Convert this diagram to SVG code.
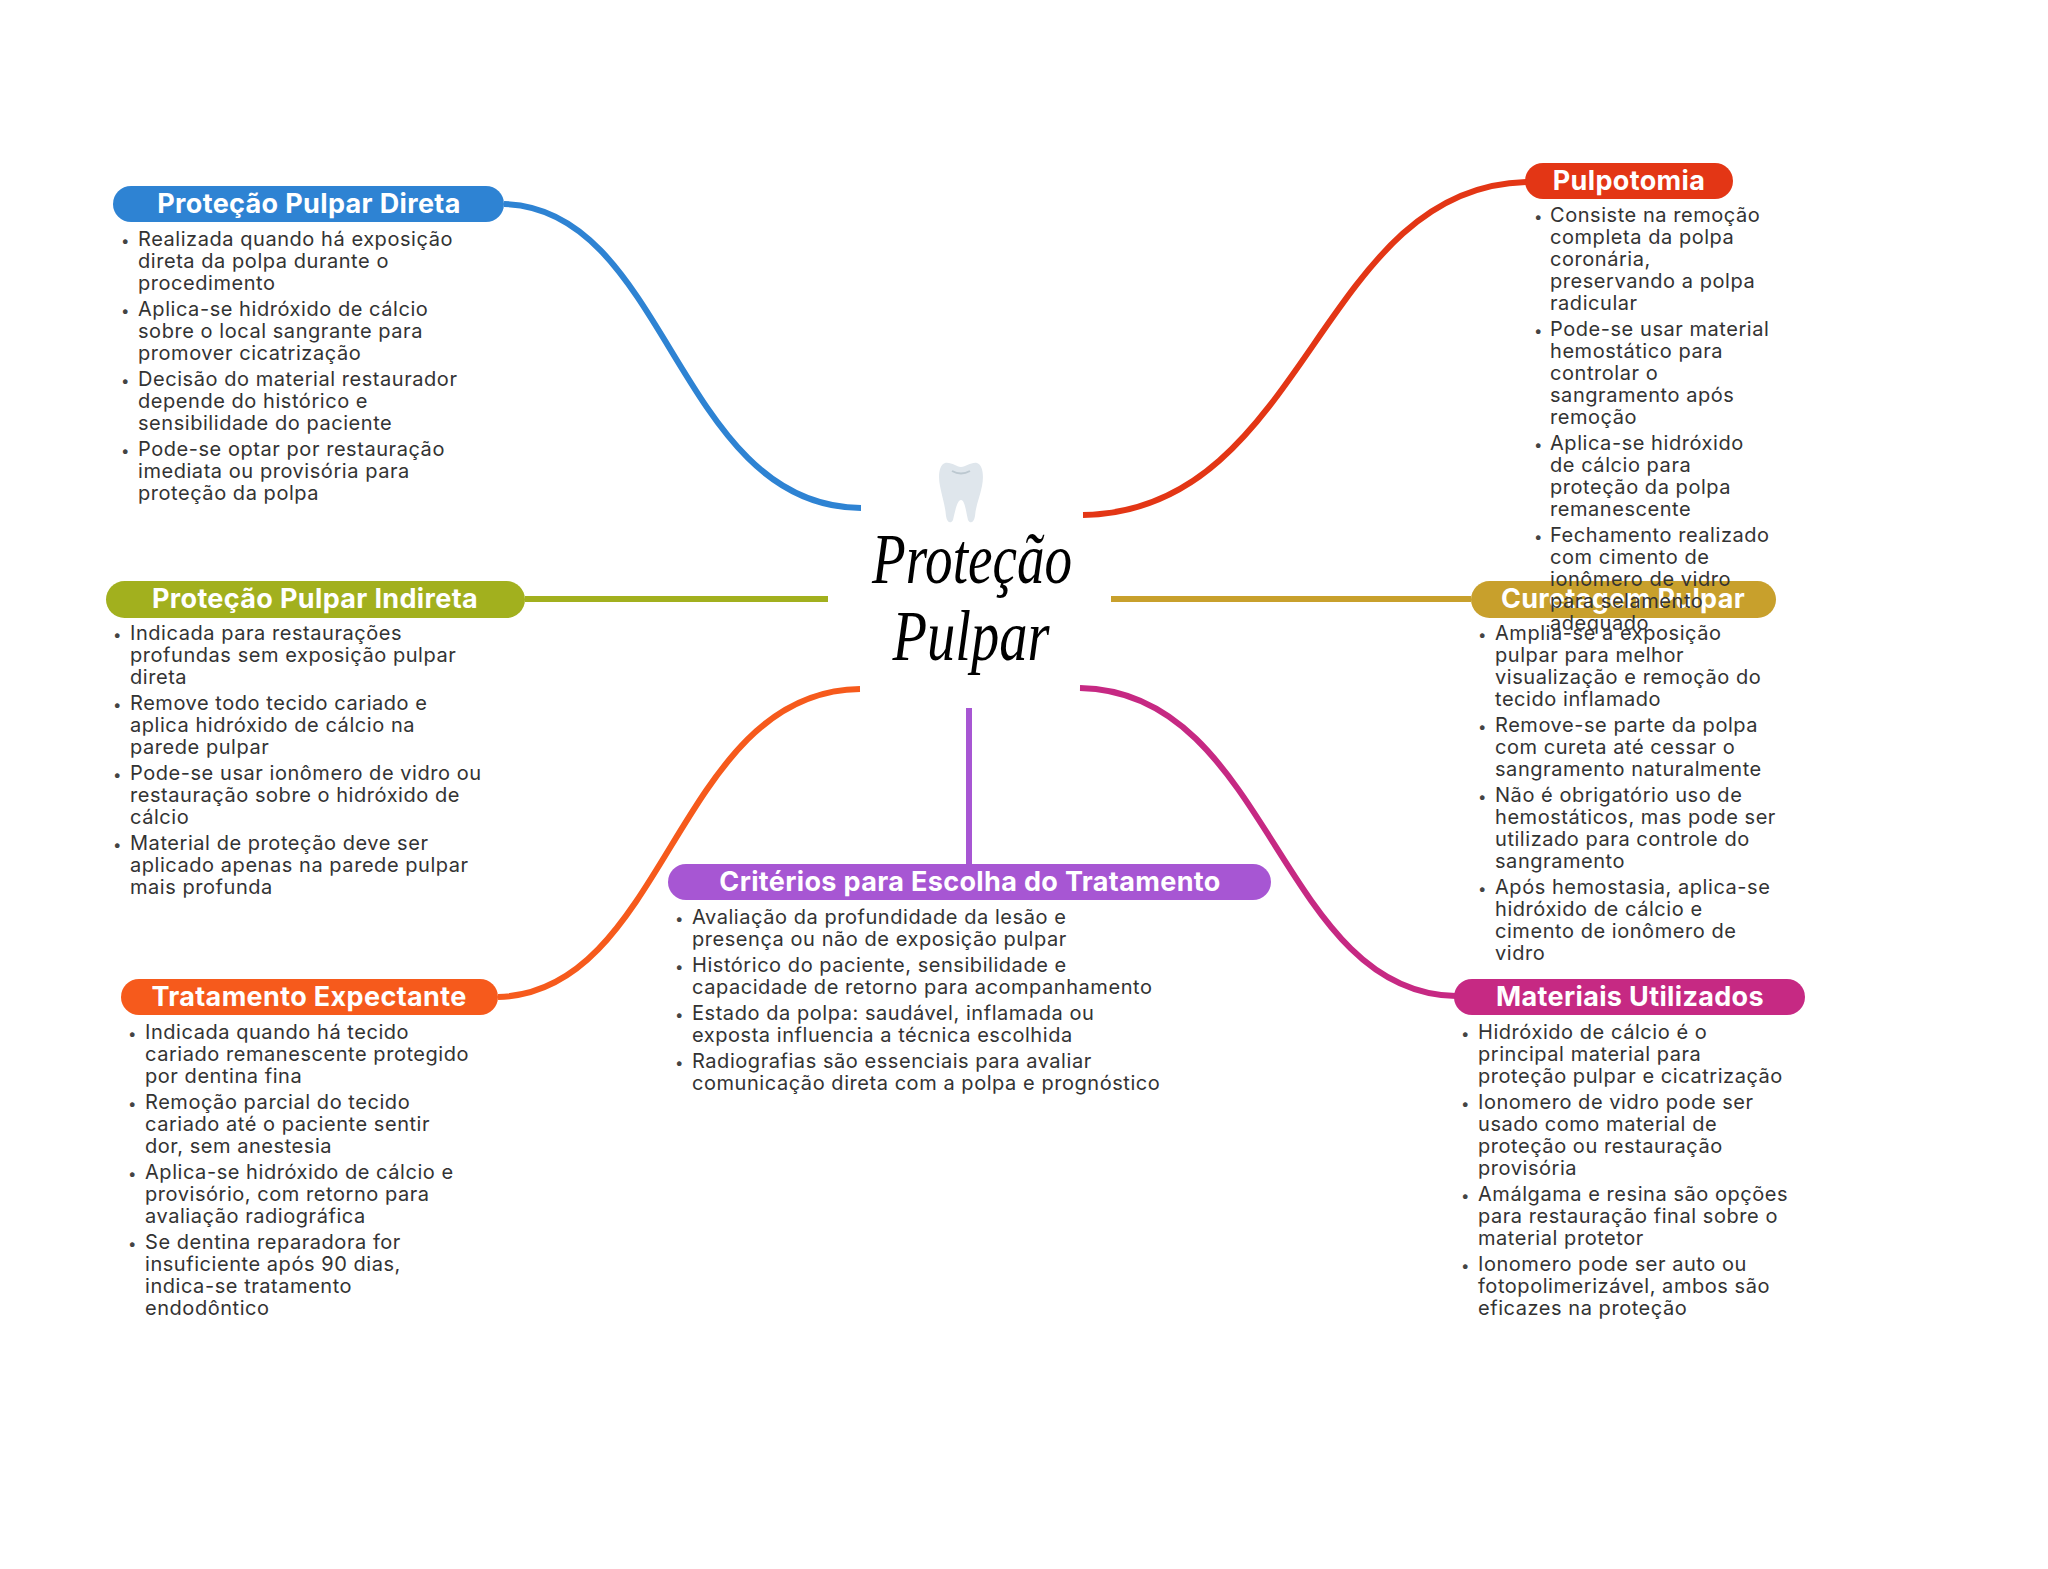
<svg xmlns="http://www.w3.org/2000/svg" width="2048" height="1569" viewBox="0 0 2048 1569">
<style>
text{font-family:"Inter","Open Sans","Liberation Sans",sans-serif}
.t{font-size:27px;font-weight:700;letter-spacing:.35px;fill:#fff;text-anchor:middle}
.b{font-size:20px;letter-spacing:.55px;fill:#333}
.d{font-size:15px;letter-spacing:0;fill:#444}
.c{fill:none;stroke-width:6}
.m{font-family:"Liberation Serif",serif;font-style:italic;font-size:72px;fill:#000;text-anchor:middle}
</style>
<rect width="2048" height="1569" fill="#fff"/>
<g id="connectors">
<path class="c" stroke="#2e83d3" d="M504,204C668,208 677,507 861,508"/>
<path class="c" stroke="#e33615" d="M1527,182C1318,186 1307,512 1083,515"/>
<path class="c" stroke="#a2b01e" d="M525,599H828"/>
<path class="c" stroke="#c8a02c" d="M1111,599H1471"/>
<path class="c" stroke="#f65a1c" d="M498,997C667,993 676,691 860,689"/>
<path class="c" stroke="#c62983" d="M1456,996C1279,993 1270,691 1080,688"/>
<path class="c" stroke="#a756d3" d="M969,708V864"/>
</g>
<g id="center">
<path fill="#dfe6ec" d="M945,463C952,462 956,467 961,467C966,467 971,462 977,463C983,465 984,476 982,486C980,497 976,504 975,516C974,523 970,524 968,520C966,512 965,500 961,500C957,500 955,512 953,520C951,524 947,523 946,516C945,504 942,497 940,486C938,476 939,465 945,463Z"/>
<path fill="none" stroke="#bcc8d0" stroke-width="2" d="M952,471Q961,476 970,471"/>
<text class="m" x="972" y="583" textLength="200" lengthAdjust="spacingAndGlyphs">Proteção</text>
<text class="m" x="971" y="660" textLength="157" lengthAdjust="spacingAndGlyphs">Pulpar</text>
</g>
<g id="curetagem">
<rect x="1471" y="581" width="305" height="37" rx="18.5" fill="#c8a02c"/>
<text class="t" x="1623" y="608">Curetagem Pulpar</text>
<g class="b">
<text class="d" x="1478" y="640">•</text><text x="1495" y="640"><tspan x="1495">Amplia-se a exposição</tspan><tspan x="1495" dy="22">pulpar para melhor</tspan><tspan x="1495" dy="22">visualização e remoção do</tspan><tspan x="1495" dy="22">tecido inflamado</tspan></text>
<text class="d" x="1478" y="732">•</text><text x="1495" y="732"><tspan x="1495">Remove-se parte da polpa</tspan><tspan x="1495" dy="22">com cureta até cessar o</tspan><tspan x="1495" dy="22">sangramento naturalmente</tspan></text>
<text class="d" x="1478" y="802">•</text><text x="1495" y="802"><tspan x="1495">Não é obrigatório uso de</tspan><tspan x="1495" dy="22">hemostáticos, mas pode ser</tspan><tspan x="1495" dy="22">utilizado para controle do</tspan><tspan x="1495" dy="22">sangramento</tspan></text>
<text class="d" x="1478" y="894">•</text><text x="1495" y="894"><tspan x="1495">Após hemostasia, aplica-se</tspan><tspan x="1495" dy="22">hidróxido de cálcio e</tspan><tspan x="1495" dy="22">cimento de ionômero de</tspan><tspan x="1495" dy="22">vidro</tspan></text>
</g>
</g>
<g id="pulpotomia">
<rect x="1525" y="163" width="208" height="36" rx="18" fill="#e33615"/>
<text class="t" x="1629" y="190">Pulpotomia</text>
<g class="b">
<text class="d" x="1534" y="222">•</text><text x="1550" y="222"><tspan x="1550">Consiste na remoção</tspan><tspan x="1550" dy="22">completa da polpa</tspan><tspan x="1550" dy="22">coronária,</tspan><tspan x="1550" dy="22">preservando a polpa</tspan><tspan x="1550" dy="22">radicular</tspan></text>
<text class="d" x="1534" y="336">•</text><text x="1550" y="336"><tspan x="1550">Pode-se usar material</tspan><tspan x="1550" dy="22">hemostático para</tspan><tspan x="1550" dy="22">controlar o</tspan><tspan x="1550" dy="22">sangramento após</tspan><tspan x="1550" dy="22">remoção</tspan></text>
<text class="d" x="1534" y="450">•</text><text x="1550" y="450"><tspan x="1550">Aplica-se hidróxido</tspan><tspan x="1550" dy="22">de cálcio para</tspan><tspan x="1550" dy="22">proteção da polpa</tspan><tspan x="1550" dy="22">remanescente</tspan></text>
<text class="d" x="1534" y="542">•</text><text x="1550" y="542"><tspan x="1550">Fechamento realizado</tspan><tspan x="1550" dy="22">com cimento de</tspan><tspan x="1550" dy="22">ionômero de vidro</tspan><tspan x="1550" dy="22">para selamento</tspan><tspan x="1550" dy="22">adequado</tspan></text>
</g>
</g>
<g id="direta">
<rect x="113" y="186" width="391" height="36" rx="18" fill="#2e83d3"/>
<text class="t" x="309" y="213">Proteção Pulpar Direta</text>
<g class="b">
<text class="d" x="121" y="246">•</text><text x="138" y="246"><tspan x="138">Realizada quando há exposição</tspan><tspan x="138" dy="22">direta da polpa durante o</tspan><tspan x="138" dy="22">procedimento</tspan></text>
<text class="d" x="121" y="316">•</text><text x="138" y="316"><tspan x="138">Aplica-se hidróxido de cálcio</tspan><tspan x="138" dy="22">sobre o local sangrante para</tspan><tspan x="138" dy="22">promover cicatrização</tspan></text>
<text class="d" x="121" y="386">•</text><text x="138" y="386"><tspan x="138">Decisão do material restaurador</tspan><tspan x="138" dy="22">depende do histórico e</tspan><tspan x="138" dy="22">sensibilidade do paciente</tspan></text>
<text class="d" x="121" y="456">•</text><text x="138" y="456"><tspan x="138">Pode-se optar por restauração</tspan><tspan x="138" dy="22">imediata ou provisória para</tspan><tspan x="138" dy="22">proteção da polpa</tspan></text>
</g>
</g>
<g id="indireta">
<rect x="106" y="581" width="419" height="37" rx="18.5" fill="#a2b01e"/>
<text class="t" x="315" y="608">Proteção Pulpar Indireta</text>
<g class="b">
<text class="d" x="113" y="640">•</text><text x="130" y="640"><tspan x="130">Indicada para restaurações</tspan><tspan x="130" dy="22">profundas sem exposição pulpar</tspan><tspan x="130" dy="22">direta</tspan></text>
<text class="d" x="113" y="710">•</text><text x="130" y="710"><tspan x="130">Remove todo tecido cariado e</tspan><tspan x="130" dy="22">aplica hidróxido de cálcio na</tspan><tspan x="130" dy="22">parede pulpar</tspan></text>
<text class="d" x="113" y="780">•</text><text x="130" y="780"><tspan x="130">Pode-se usar ionômero de vidro ou</tspan><tspan x="130" dy="22">restauração sobre o hidróxido de</tspan><tspan x="130" dy="22">cálcio</tspan></text>
<text class="d" x="113" y="850">•</text><text x="130" y="850"><tspan x="130">Material de proteção deve ser</tspan><tspan x="130" dy="22">aplicado apenas na parede pulpar</tspan><tspan x="130" dy="22">mais profunda</tspan></text>
</g>
</g>
<g id="expectante">
<rect x="121" y="979" width="377" height="36" rx="18" fill="#f65a1c"/>
<text class="t" x="309" y="1006">Tratamento Expectante</text>
<g class="b">
<text class="d" x="128" y="1039">•</text><text x="145" y="1039"><tspan x="145">Indicada quando há tecido</tspan><tspan x="145" dy="22">cariado remanescente protegido</tspan><tspan x="145" dy="22">por dentina fina</tspan></text>
<text class="d" x="128" y="1109">•</text><text x="145" y="1109"><tspan x="145">Remoção parcial do tecido</tspan><tspan x="145" dy="22">cariado até o paciente sentir</tspan><tspan x="145" dy="22">dor, sem anestesia</tspan></text>
<text class="d" x="128" y="1179">•</text><text x="145" y="1179"><tspan x="145">Aplica-se hidróxido de cálcio e</tspan><tspan x="145" dy="22">provisório, com retorno para</tspan><tspan x="145" dy="22">avaliação radiográfica</tspan></text>
<text class="d" x="128" y="1249">•</text><text x="145" y="1249"><tspan x="145">Se dentina reparadora for</tspan><tspan x="145" dy="22">insuficiente após 90 dias,</tspan><tspan x="145" dy="22">indica-se tratamento</tspan><tspan x="145" dy="22">endodôntico</tspan></text>
</g>
</g>
<g id="criterios">
<rect x="668" y="864" width="603" height="36" rx="18" fill="#a756d3"/>
<text class="t" x="970" y="891">Critérios para Escolha do Tratamento</text>
<g class="b">
<text class="d" x="675" y="924">•</text><text x="692" y="924"><tspan x="692">Avaliação da profundidade da lesão e</tspan><tspan x="692" dy="22">presença ou não de exposição pulpar</tspan></text>
<text class="d" x="675" y="972">•</text><text x="692" y="972"><tspan x="692">Histórico do paciente, sensibilidade e</tspan><tspan x="692" dy="22">capacidade de retorno para acompanhamento</tspan></text>
<text class="d" x="675" y="1020">•</text><text x="692" y="1020"><tspan x="692">Estado da polpa: saudável, inflamada ou</tspan><tspan x="692" dy="22">exposta influencia a técnica escolhida</tspan></text>
<text class="d" x="675" y="1068">•</text><text x="692" y="1068"><tspan x="692">Radiografias são essenciais para avaliar</tspan><tspan x="692" dy="22">comunicação direta com a polpa e prognóstico</tspan></text>
</g>
</g>
<g id="materiais">
<rect x="1454" y="979" width="351" height="36" rx="18" fill="#c62983"/>
<text class="t" x="1630" y="1006">Materiais Utilizados</text>
<g class="b">
<text class="d" x="1461" y="1039">•</text><text x="1478" y="1039"><tspan x="1478">Hidróxido de cálcio é o</tspan><tspan x="1478" dy="22">principal material para</tspan><tspan x="1478" dy="22">proteção pulpar e cicatrização</tspan></text>
<text class="d" x="1461" y="1109">•</text><text x="1478" y="1109"><tspan x="1478">Ionomero de vidro pode ser</tspan><tspan x="1478" dy="22">usado como material de</tspan><tspan x="1478" dy="22">proteção ou restauração</tspan><tspan x="1478" dy="22">provisória</tspan></text>
<text class="d" x="1461" y="1201">•</text><text x="1478" y="1201"><tspan x="1478">Amálgama e resina são opções</tspan><tspan x="1478" dy="22">para restauração final sobre o</tspan><tspan x="1478" dy="22">material protetor</tspan></text>
<text class="d" x="1461" y="1271">•</text><text x="1478" y="1271"><tspan x="1478">Ionomero pode ser auto ou</tspan><tspan x="1478" dy="22">fotopolimerizável, ambos são</tspan><tspan x="1478" dy="22">eficazes na proteção</tspan></text>
</g>
</g>
</svg>
